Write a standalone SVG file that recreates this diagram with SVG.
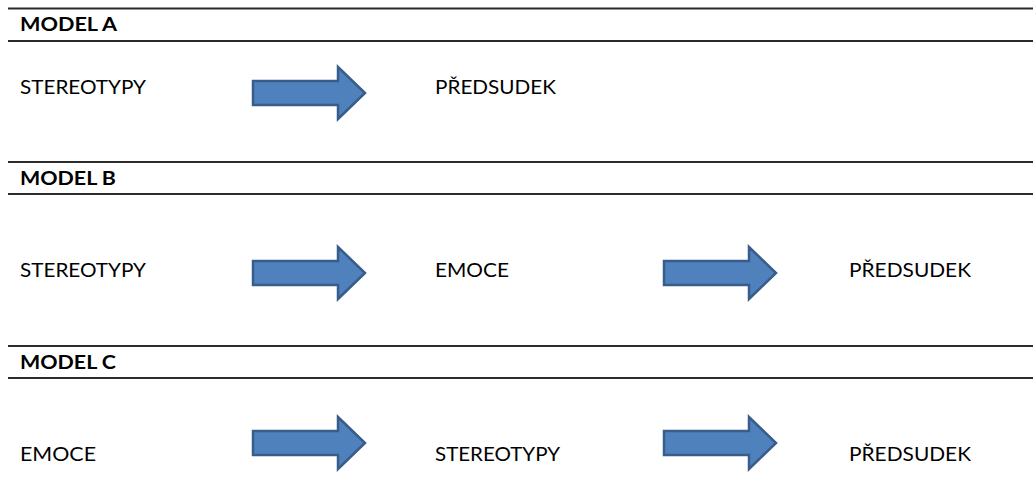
<svg xmlns="http://www.w3.org/2000/svg" width="1033" height="493" viewBox="0 0 1033 493">
<defs>
<style>
.rule{stroke:#2b2b2b;stroke-width:2;fill:none}
.shadow{stroke:#b0b0b0;stroke-width:1;fill:none}
.hdr{font-family:Lato,"Liberation Sans",sans-serif;font-weight:bold;font-size:19px;fill:#000}
.lbl{font-family:Lato,"Liberation Sans",sans-serif;font-size:19px;fill:#000}
.arrow{fill:#4F81BD;stroke:#385D8A;stroke-width:2.5;stroke-linejoin:miter}
</style>
<path id="arr" d="M0,-12 L85,-12 L85,-26 L112,0 L85,26 L85,12 L0,12 Z"/>
</defs>
<g id="rules">
<line class="rule" x1="8" y1="8.5" x2="1033" y2="8.5"/>
<line class="rule" x1="8" y1="41" x2="1033" y2="41"/>
<line class="rule" x1="8" y1="162" x2="1033" y2="162"/>
<line class="rule" x1="8" y1="194" x2="1033" y2="194"/>
<line class="rule" x1="8" y1="346" x2="1033" y2="346"/>
<line class="rule" x1="8" y1="378" x2="1033" y2="378"/>
</g>
<g id="headers">
<text class="hdr" x="20" y="31" textLength="97" lengthAdjust="spacingAndGlyphs">MODEL A</text>
<text class="hdr" x="20" y="185" textLength="96" lengthAdjust="spacingAndGlyphs">MODEL B</text>
<text class="hdr" x="20" y="369" textLength="96" lengthAdjust="spacingAndGlyphs">MODEL C</text>
</g>
<g id="node-a-stereotypy"><text class="lbl" x="20" y="94" textLength="126" lengthAdjust="spacingAndGlyphs">STEREOTYPY</text></g>
<g id="node-a-predsudek"><text class="lbl" x="435" y="94" textLength="121" lengthAdjust="spacingAndGlyphs">PŘEDSUDEK</text></g>
<g id="node-b-stereotypy"><text class="lbl" x="20" y="277" textLength="126" lengthAdjust="spacingAndGlyphs">STEREOTYPY</text></g>
<g id="node-b-emoce"><text class="lbl" x="435" y="277" textLength="74" lengthAdjust="spacingAndGlyphs">EMOCE</text></g>
<g id="node-b-predsudek"><text class="lbl" x="849" y="277" textLength="122" lengthAdjust="spacingAndGlyphs">PŘEDSUDEK</text></g>
<g id="node-c-emoce"><text class="lbl" x="20" y="461" textLength="76" lengthAdjust="spacingAndGlyphs">EMOCE</text></g>
<g id="node-c-stereotypy"><text class="lbl" x="435" y="461" textLength="125" lengthAdjust="spacingAndGlyphs">STEREOTYPY</text></g>
<g id="node-c-predsudek"><text class="lbl" x="849" y="461" textLength="122" lengthAdjust="spacingAndGlyphs">PŘEDSUDEK</text></g>
<g id="connectors">
<use href="#arr" class="arrow" x="253" y="93"/>
<use href="#arr" class="arrow" x="253" y="273"/>
<use href="#arr" class="arrow" x="664" y="273"/>
<use href="#arr" class="arrow" x="253" y="443"/>
<use href="#arr" class="arrow" x="664" y="443"/>
</g>
</svg>
